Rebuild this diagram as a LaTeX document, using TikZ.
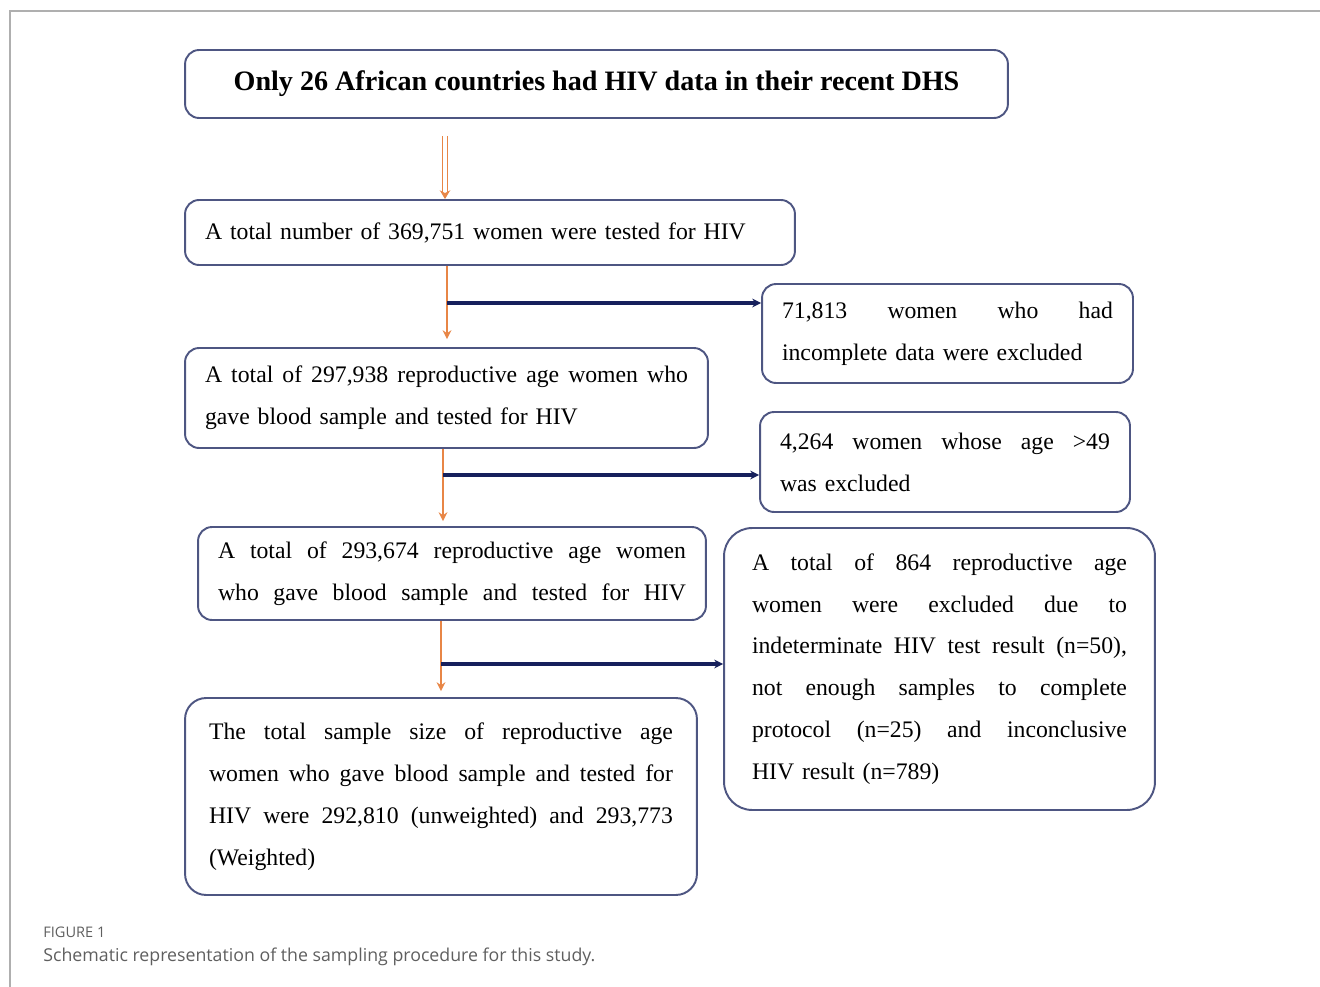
\documentclass[tikz,border=0pt]{standalone}
\usepackage{fontspec}
\setmainfont{Liberation Serif}
\newfontfamily\capfont{Open Sans}
\usepackage{tikz}
\usetikzlibrary{arrows.meta,positioning}
\definecolor{boxline}{RGB}{78,86,130}
\definecolor{arrorange}{RGB}{232,134,70}
\definecolor{arrnavy}{RGB}{22,32,92}
\definecolor{capgray}{RGB}{95,95,95}
\definecolor{framegray}{RGB}{175,175,175}

\begin{document}
\begin{tikzpicture}[x=0.02cm,y=-0.02cm,
  flowbox/.style={draw=boxline,line width=1.1pt,rounded corners=8pt,inner xsep=0.4cm,inner ysep=0pt,align=left,font=\fontsize{13.5}{23.8}\selectfont},
  orarrow/.style={draw=arrorange,line width=1.1pt,-{Stealth[length=5pt,width=5pt]}},
  navarrow/.style={draw=arrnavy,line width=2pt,-{Stealth[length=5pt,width=5pt]}},
  hollowarr/.style={draw=arrorange,line width=0.6pt,double=white,double distance=2.4pt,-{Stealth[length=5pt,width=6pt]}}]
  \useasboundingbox (0,0) rectangle (1320,987);
  \draw[framegray,line width=0.8pt] (10,987) -- (10,11) -- (1320,11);
  \node[flowbox,align=center,minimum width=16.46cm,minimum height=1.36cm,font=\fontsize{16}{19}\selectfont\bfseries] (top) at (596.5,84) {Only 26 African countries had HIV data in their recent DHS};
  \node[flowbox,text width=11.4cm,minimum height=1.3cm] (b2) at (490,232.5) {A total number of 369,751 women were tested for HIV};
  \node[flowbox,text width=6.62cm,minimum height=1.98cm] (b3) at (947.5,333.5) {71,813\hfill women\hfill who\hfill had\\incomplete data were excluded};
  \node[flowbox,text width=9.66cm,minimum height=2cm] (b4) at (446.5,398) {A\hfill total\hfill of\hfill 297,938\hfill reproductive\hfill age\hfill women\hfill who\\gave blood sample and tested for HIV};
  \node[flowbox,text width=6.6cm,minimum height=2cm] (b5) at (945,462) {4,264\hfill women\hfill whose\hfill age\hfill >49\\was excluded};
  \node[flowbox,text width=9.36cm,minimum height=1.86cm] (b6) at (452,573.5) {A\hfill total\hfill of\hfill 293,674\hfill reproductive\hfill age\hfill women\\who\hfill gave\hfill blood\hfill sample\hfill and\hfill tested\hfill for\hfill HIV};
  \node[flowbox,rounded corners=16pt,inner xsep=0.56cm,text width=7.5cm,minimum height=5.64cm] (b7) at (939.5,669) {A\hfill total\hfill of\hfill 864\hfill reproductive\hfill age\\women\hfill were\hfill excluded\hfill due\hfill to\\indeterminate\hfill HIV\hfill test\hfill result\hfill (n=50),\\not\hfill enough\hfill samples\hfill to\hfill complete\\protocol\hfill (n=25)\hfill and\hfill inconclusive\\HIV result (n=789)};
  \node[flowbox,rounded corners=12pt,inner xsep=0.48cm,text width=9.28cm,minimum height=3.94cm] (b8) at (441,796.5) {The\hfill total\hfill sample\hfill size\hfill of\hfill reproductive\hfill age\\women\hfill who\hfill gave\hfill blood\hfill sample\hfill and\hfill tested\hfill for\\HIV\hfill were\hfill 292,810\hfill (unweighted)\hfill and\hfill 293,773\\(Weighted)};
  \coordinate (c1) at (445,0); \coordinate (c2) at (447,0);
  \coordinate (c3) at (443,0); \coordinate (c4) at (441,0);
  \draw[hollowarr,shorten <=0.34cm] (top.south -| c1) -- (b2.north -| c1);
  \draw[orarrow,shorten >=0.16cm] (b2.south -| c2) -- (b4.north -| c2);
  \draw[orarrow,shorten >=0.1cm] (b4.south -| c3) -- (b6.north -| c3);
  \draw[orarrow,shorten >=0.12cm] (b6.south -| c4) -- (b8.north -| c4);
  \coordinate (j1) at (447,303); \coordinate (j2) at (443,475); \coordinate (j3) at (441,664);
  \draw[navarrow] (j1) -- (j1 -| b3.west);
  \draw[navarrow] (j2) -- (j2 -| b5.west);
  \draw[navarrow] (j3) -- (j3 -| b7.west);
  \node[anchor=base west,inner sep=0pt,text=capgray,font=\capfont\fontsize{8.3}{10}\selectfont] (figlbl) at (43,937) {FIGURE 1};
  \node[anchor=base west,inner sep=0pt,text=capgray,font=\capfont\fontsize{10.1}{12}\selectfont] (figcap) at (43,961) {Schematic representation of the sampling procedure for this study.};
\end{tikzpicture}
\end{document}
